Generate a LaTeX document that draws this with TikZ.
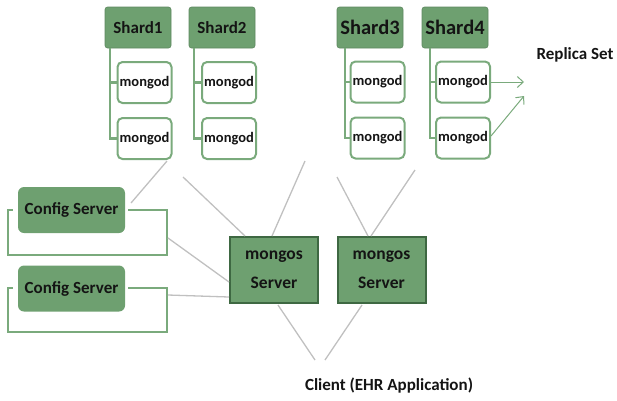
\documentclass[tikz,border=0pt]{standalone}
\usepackage{fontspec}
\setmainfont{Carlito}
\usetikzlibrary{arrows.meta}
\definecolor{gfill}{RGB}{110,160,112}
\definecolor{gdark}{RGB}{62,104,66}
\definecolor{gline}{RGB}{122,170,124}
\definecolor{gray1}{RGB}{192,192,192}
\definecolor{txt}{RGB}{20,20,20}
\tikzset{
  shardbox/.style={rectangle, rounded corners=2.5pt, fill=gfill, draw=gfill!85!black, line width=0.6pt, minimum width=66pt, minimum height=41pt, inner sep=0pt, font=\bfseries, text=txt},
  mongodbox/.style={rectangle, rounded corners=5pt, fill=white, draw=gline, line width=2pt, minimum width=54pt, minimum height=41pt, inner sep=0pt, font=\fontsize{14.5}{16}\selectfont\bfseries, text=txt},
  cfgbox/.style={rectangle, rounded corners=6pt, fill=gfill, minimum width=107pt, minimum height=46pt, inner sep=0pt, font=\fontsize{17}{20}\selectfont\bfseries, text=txt},
  mongosbox/.style={rectangle, fill=gfill, draw=gdark, line width=2pt, minimum width=88pt, minimum height=66pt, inner sep=0pt, align=center, font=\fontsize{17.5}{29}\selectfont\bfseries, text=txt},
  brk/.style={draw=gline, line width=2.2pt},
  glink/.style={draw=gray1, line width=1.3pt},
  rarrow/.style={draw=gline, line width=1pt, -{Straight Barb[length=6pt,width=11pt]}},
  lbl/.style={font=\fontsize{17}{20}\selectfont\bfseries, text=txt}
}
\begin{document}
\begin{tikzpicture}[x=1pt,y=-1pt]
\useasboundingbox (0,0) rectangle (617,400);
% shards
\node[shardbox, font=\fontsize{17}{20}\selectfont\bfseries] (s1) at (138,27.5) {Shard1};
\node[shardbox, font=\fontsize{17}{20}\selectfont\bfseries] (s2) at (222,27.5) {Shard2};
\node[shardbox, font=\fontsize{20.5}{24}\selectfont\bfseries] (s3) at (370,27.5) {Shard3};
\node[shardbox, font=\fontsize{20.5}{24}\selectfont\bfseries] (s4) at (455,27.5) {Shard4};
% mongods
\node[mongodbox] (m11) at (144.5,82.5) {mongod};
\node[mongodbox] (m12) at (144.5,138.5) {mongod};
\node[mongodbox] (m21) at (229,82.5) {mongod};
\node[mongodbox] (m22) at (229,138.5) {mongod};
\node[mongodbox] (m31) at (377.5,82) {mongod};
\node[mongodbox] (m32) at (377.5,138) {mongod};
\node[mongodbox] (m41) at (463,82) {mongod};
\node[mongodbox] (m42) at (463,138) {mongod};
% brackets from shard to mongods
\foreach \s/\a/\b/\x in {s1/m11/m12/110, s2/m21/m22/194, s3/m31/m32/345, s4/m41/m42/430}{
  \coordinate (\s top) at (\x,48);
  \draw[brk] (\s top) |- (\a.west);
  \draw[brk] (\s top) |- (\b.west);
}
% config servers
\node[cfgbox] (c1) at (71.5,210) {Config Server};
\node[cfgbox] (c2) at (71.5,288.5) {Config Server};
\draw[brk] (128,210) -- (167,210) -- (167,255) -- (8,255) -- (8,210) -- (13,210);
\draw[brk] (128,288) -- (167,288) -- (167,332) -- (8,332) -- (8,288) -- (13,288);
% mongos
\node[mongosbox] (ms1) at (274,270) {mongos\\Server};
\node[mongosbox] (ms2) at (381.5,270) {mongos\\Server};
% labels
\node[lbl] (client) at (389,386) {Client (EHR Application)};
\node[lbl] (rs) at (575,55) {Replica Set};
% gray links
\coordinate (a1) at (167,161);
\coordinate (a2) at (131,203);
\draw[glink] (a1) -- (a2);
\coordinate (b1) at (183,177);
\draw[glink] (b1) -- (ms1.north west -| 245,0);
\coordinate (b2) at (305,161);
\draw[glink] (b2) -- (272,236);
\coordinate (b3) at (337,177);
\draw[glink] (b3) -- (368,236);
\coordinate (b4) at (415,170);
\draw[glink] (b4) -- (371,236);
\coordinate (k1) at (168,238);
\draw[glink] (k1) -- (ms1.west |- 0,282);
\coordinate (k2) at (168,295);
\draw[glink] (k2) -- (ms1.west |- 0,297);
\coordinate (cl1) at (315,360);
\coordinate (cl2) at (325,360);
\draw[glink] (278,305) -- (cl1);
\draw[glink] (362,305) -- (cl2);
% replica arrows
\coordinate (r1) at (524,82);
\coordinate (r2) at (524,96);
\draw[rarrow] (m41.east) -- (r1);
\draw[rarrow] ([yshift=2pt]m42.east) -- (r2);
\end{tikzpicture}
\end{document}
